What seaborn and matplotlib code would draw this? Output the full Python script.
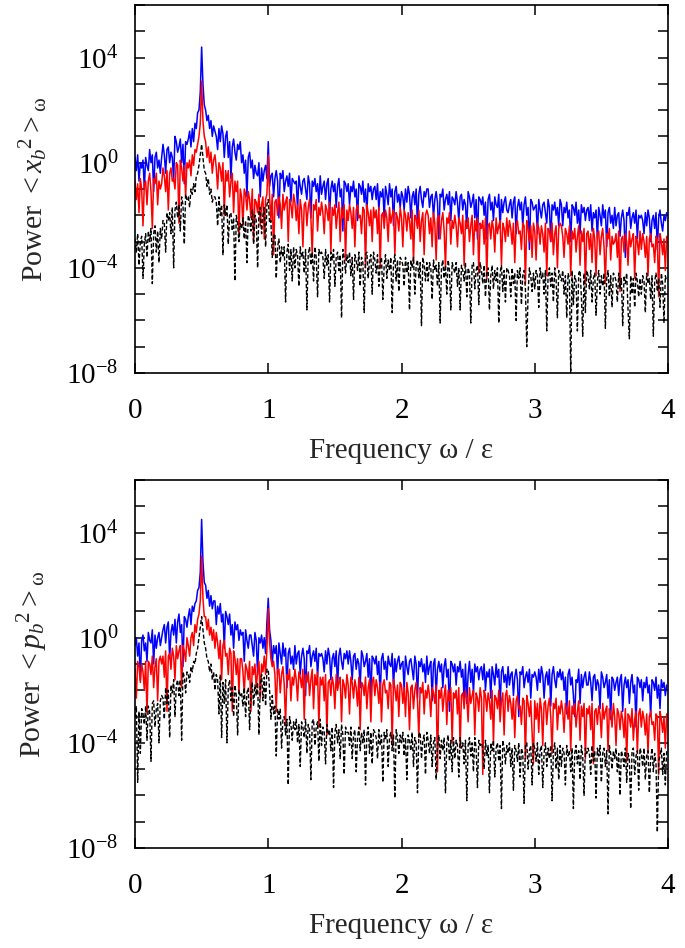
import numpy as np
import pandas as pd
import matplotlib
matplotlib.use("Agg")
import matplotlib.pyplot as plt
import seaborn as sns

# ---------------- data: log10(power) in tenths of a decade ----------------
# each row covers 0.2 in frequency with 20 samples (step 0.01)
STEP = 0.01
ROW_SPAN = 0.2

top_blue = [
    [2, -3, 3, -7, 0, -2, 1, -10, 2, -1, -3, 5, 0, 3, -11, 2, 4, -2, 1, -4],
    [2, 7, 3, -4, 5, 6, 0, 4, 2, -7, 10, 8, 4, 6, 9, 0, 7, -8, 8, 7],
    [9, 12, 6, 13, 8, 15, 13, 19, 20, 27, 44, 30, 22, 20, 16, 18, 13, 16, 10, 14],
    [12, 10, 5, 13, 8, 14, 11, 2, 10, 12, 2, 8, -6, 6, 9, 4, 1, 7, 5, 8],
    [0, 3, -4, 1, -13, 2, 4, -2, 1, -6, -1, -4, -5, 0, -13, -2, -7, -3, -1, -6],
    [8, -9, -5, -4, -13, -6, -3, -7, -21, -4, -6, -3, -11, -7, -5, -9, -4, -15, -6, -7],
    [-8, -7, -18, -5, -9, -12, -7, -6, -10, -14, -5, -8, -21, -7, -9, -6, -11, -8, -15, -5],
    [-12, -9, -7, -14, -8, -6, -20, -10, -7, -11, -8, -17, -9, -6, -13, -10, -26, -7, -8, -11],
    [-8, -16, -9, -11, -7, -13, -10, -22, -8, -9, -12, -7, -15, -10, -19, -8, -11, -9, -14, -10],
    [-9, -14, -8, -18, -11, -13, -10, -21, -9, -12, -16, -8, -13, -10, -24, -11, -9, -15, -12, -17],
    [-11, -13, -18, -10, -15, -9, -12, -21, -13, -11, -16, -10, -24, -12, -9, -14, -17, -11, -13, -10],
    [-10, -17, -13, -12, -21, -14, -11, -15, -29, -12, -13, -10, -18, -14, -12, -16, -11, -22, -13, -14],
    [-16, -11, -15, -22, -13, -12, -18, -14, -16, -25, -11, -13, -17, -15, -12, -21, -14, -29, -13, -14],
    [-16, -13, -20, -15, -29, -14, -12, -18, -15, -22, -13, -16, -17, -12, -25, -14, -19, -15, -13, -18],
    [-19, -16, -14, -21, -15, -13, -27, -17, -14, -18, -15, -24, -16, -13, -20, -17, -33, -14, -15, -18],
    [-17, -16, -27, -14, -18, -21, -16, -15, -19, -23, -14, -17, -30, -16, -18, -15, -20, -17, -24, -14],
    [-16, -24, -17, -19, -15, -21, -18, -30, -16, -17, -20, -15, -23, -18, -27, -16, -19, -17, -22, -18],
    [-17, -22, -16, -26, -19, -21, -18, -29, -17, -20, -24, -16, -21, -18, -32, -19, -17, -23, -20, -25],
    [-17, -24, -20, -19, -28, -21, -18, -22, -36, -19, -20, -17, -25, -21, -19, -23, -18, -29, -20, -21],
    [-20, -22, -27, -19, -24, -18, -21, -30, -22, -20, -25, -19, -33, -21, -18, -23, -26, -20, -22, -19],
]

top_red = [
    [-7, -14, -8, -19, -6, -10, -24, -8, -7, -16, -7, -4, -11, -25, -6, -8, -4, -16, -7, -10],
    [-8, -2, -5, -11, -3, -18, -4, -2, -7, -6, -10, 0, -1, -23, 1, -2, -7, -1, -13, 0],
    [-2, 1, -5, 3, -1, 5, 4, 7, 10, 15, 31, 16, 10, 8, 2, 6, 0, 4, -4, 1],
    [3, -2, -10, 0, -2, -7, 0, -20, -3, -7, -3, -13, -7, -4, -19, -7, -11, -7, -28, -10],
    [-13, -24, -10, -12, -18, -11, -14, -21, -10, -30, -14, -15, -19, -12, -24, -16, -13, -29, -14, -12],
    [3, -13, -22, -12, -35, -15, -14, -20, -13, -16, -25, -12, -18, -15, -13, -30, -14, -16, -21, -12],
    [-15, -22, -16, -27, -14, -18, -32, -16, -15, -24, -17, -14, -21, -35, -16, -18, -14, -26, -17, -20],
    [-15, -19, -27, -16, -18, -22, -15, -34, -17, -20, -16, -25, -19, -15, -30, -17, -21, -16, -37, -18],
    [-22, -16, -19, -25, -17, -32, -18, -16, -21, -20, -27, -17, -18, -40, -16, -19, -24, -18, -30, -17],
    [-21, -18, -27, -17, -40, -20, -19, -25, -18, -21, -30, -17, -23, -20, -18, -35, -19, -21, -26, -17],
    [-21, -32, -18, -20, -26, -19, -22, -29, -18, -38, -20, -21, -25, -18, -30, -22, -19, -35, -20, -18],
    [-20, -27, -21, -32, -19, -23, -37, -21, -20, -29, -22, -19, -26, -40, -21, -23, -19, -31, -22, -25],
    [-20, -24, -32, -21, -23, -27, -20, -39, -22, -25, -21, -30, -24, -20, -35, -22, -26, -21, -42, -23],
    [-25, -22, -31, -21, -44, -24, -23, -29, -22, -25, -34, -21, -27, -24, -22, -39, -23, -25, -30, -21],
    [-28, -22, -25, -31, -23, -38, -24, -22, -27, -26, -33, -23, -24, -46, -22, -25, -30, -24, -36, -23],
    [-26, -37, -23, -25, -31, -24, -27, -34, -23, -43, -25, -26, -30, -23, -35, -27, -24, -40, -25, -23],
    [-24, -28, -36, -25, -27, -31, -24, -43, -26, -29, -25, -34, -28, -24, -39, -26, -30, -25, -46, -27],
    [-26, -33, -27, -38, -25, -29, -43, -27, -26, -35, -28, -25, -32, -46, -27, -29, -25, -37, -28, -31],
    [-30, -27, -36, -26, -49, -29, -28, -34, -27, -30, -39, -26, -32, -29, -27, -44, -28, -30, -35, -26],
    [-33, -27, -30, -36, -28, -43, -29, -27, -32, -31, -38, -28, -29, -51, -27, -30, -35, -29, -41, -28],
]

top_black = [
    [-29, -34, -27, -39, -30, -28, -44, -31, -27, -36, -26, -30, -25, -46, -27, -24, -34, -26, -38, -25],
    [-29, -22, -23, -34, -19, -22, -19, -27, -17, -40, -18, -15, -21, -16, -26, -13, -16, -31, -12, -14],
    [-13, -17, -10, -12, -8, -11, -5, -4, -1, 3, 7, 2, -3, -4, -9, -6, -12, -10, -15, -13],
    [-13, -15, -24, -13, -20, -16, -35, -16, -20, -16, -31, -20, -19, -26, -21, -45, -20, -23, -30, -23],
    [-25, -21, -29, -22, -38, -20, -22, -26, -18, -31, -20, -22, -40, -18, -17, -27, -20, -17, -32, -16],
    [-14, -23, -22, -36, -28, -27, -44, -32, -29, -38, -32, -36, -32, -53, -34, -31, -41, -33, -45, -32],
    [-40, -33, -35, -47, -32, -36, -34, -42, -33, -56, -35, -32, -39, -34, -45, -32, -36, -51, -33, -35],
    [-34, -36, -44, -33, -39, -35, -53, -34, -37, -33, -47, -36, -34, -41, -35, -59, -33, -36, -42, -35],
    [-38, -34, -43, -36, -52, -35, -37, -41, -34, -47, -36, -38, -57, -35, -34, -44, -37, -35, -50, -34],
    [-37, -42, -35, -47, -38, -36, -52, -39, -35, -44, -37, -41, -36, -57, -38, -35, -45, -37, -49, -36],
    [-37, -39, -47, -36, -42, -38, -56, -37, -40, -36, -50, -39, -37, -44, -38, -62, -36, -39, -45, -38],
    [-45, -38, -40, -52, -37, -41, -39, -47, -38, -61, -40, -37, -44, -39, -50, -37, -41, -56, -38, -40],
    [-42, -38, -47, -40, -56, -39, -41, -45, -38, -51, -40, -42, -61, -39, -38, -48, -41, -39, -54, -38],
    [-41, -46, -39, -51, -42, -40, -56, -43, -39, -48, -41, -45, -40, -61, -42, -39, -49, -41, -53, -40],
    [-41, -43, -51, -40, -46, -42, -60, -41, -44, -40, -54, -43, -41, -48, -70, -50, -40, -43, -49, -42],
    [-48, -41, -43, -55, -40, -44, -42, -50, -41, -64, -43, -40, -47, -42, -53, -40, -44, -59, -41, -43],
    [-45, -41, -50, -43, -59, -42, -44, -80, -41, -54, -43, -45, -64, -42, -41, -51, -66, -42, -57, -41],
    [-43, -48, -41, -53, -44, -42, -58, -45, -41, -50, -43, -47, -42, -63, -44, -41, -51, -43, -55, -42],
    [-43, -45, -53, -42, -48, -44, -62, -43, -46, -42, -56, -67, -43, -50, -44, -55, -42, -45, -51, -44],
    [-50, -43, -45, -57, -42, -46, -44, -52, -43, -66, -45, -42, -49, -44, -55, -42, -46, -61, -43, -45],
]

bot_blue = [
    [-3, 0, -7, -2, -16, -1, 1, -5, -2, -9, 2, -1, -2, 3, -10, 1, -4, 0, 2, -3],
    [0, 3, 5, -2, 4, 6, -8, 2, 5, 1, 7, -2, 6, 9, 2, 5, -11, 8, 7, 4],
    [8, 11, 5, 12, 10, 13, 14, 18, 19, 25, 45, 29, 21, 20, 15, 18, 12, 16, 11, 14],
    [14, 5, 12, 9, 13, 6, 9, -4, 10, 8, 5, 9, 1, 5, -4, 6, 3, 5, -1, 3],
    [1, 2, -9, 3, -1, -4, 1, 1, -3, -7, 2, -1, -14, 0, -2, 1, -4, 0, -6, 6],
    [15, 3, -1, -10, -3, -6, -3, -14, -2, -6, -10, -2, -7, -4, -19, -6, -4, -10, -7, -12],
    [-3, -10, -6, -5, -14, -7, -4, -8, -22, -5, -6, -3, -11, -7, -5, -9, -4, -15, -6, -7],
    [-6, -8, -13, -5, -10, -4, -7, -16, -8, -6, -11, -5, -19, -7, -4, -9, -12, -6, -8, -5],
    [-10, -5, -9, -16, -7, -6, -12, -8, -10, -19, -5, -7, -11, -9, -6, -15, -8, -23, -7, -8],
    [-10, -7, -14, -9, -23, -8, -6, -12, -9, -16, -7, -10, -11, -6, -19, -8, -13, -9, -7, -12],
    [-10, -9, -20, -7, -11, -14, -9, -8, -12, -16, -7, -10, -23, -9, -11, -8, -13, -10, -17, -7],
    [-14, -11, -9, -24, -10, -8, -22, -12, -9, -13, -10, -19, -11, -8, -15, -12, -28, -9, -10, -13],
    [-10, -18, -11, -13, -9, -15, -12, -24, -10, -25, -14, -9, -17, -12, -21, -10, -13, -11, -16, -12],
    [-11, -16, -10, -20, -13, -15, -12, -23, -11, -14, -18, -10, -15, -12, -26, -13, -11, -17, -14, -19],
    [-11, -18, -14, -13, -22, -15, -12, -16, -30, -13, -14, -11, -19, -15, -13, -17, -12, -23, -14, -15],
    [-13, -15, -20, -12, -17, -11, -14, -23, -15, -13, -18, -12, -26, -14, -11, -16, -19, -13, -15, -12],
    [-16, -13, -20, -15, -29, -14, -12, -18, -15, -22, -30, -16, -17, -12, -25, -14, -19, -15, -13, -18],
    [-18, -13, -17, -24, -15, -14, -20, -16, -18, -27, -13, -15, -19, -17, -14, -23, -16, -31, -15, -16],
    [-20, -17, -15, -22, -16, -14, -28, -18, -15, -19, -16, -25, -17, -14, -21, -18, -34, -15, -16, -19],
    [-16, -24, -17, -19, -15, -21, -18, -30, -16, -17, -20, -15, -23, -18, -27, -16, -19, -17, -22, -18],
]

bot_red = [
    [-12, -23, -9, -11, -17, -10, -13, -20, -9, -29, -9, -10, -14, -7, -19, -11, -8, -24, -9, -7],
    [-10, -7, -15, -5, -28, -7, -6, -12, -4, -7, -16, -3, -8, -5, -3, -19, -3, -5, -9, 0],
    [-3, -7, 0, 2, -3, 5, 2, 7, 9, 14, 31, 15, 8, 8, 3, 7, 1, 4, -1, 3],
    [-4, 2, -2, -8, -1, -16, -3, -1, -7, -6, -14, -4, -6, -28, -5, -8, -14, -8, -21, -8],
    [-8, -13, -21, -10, -12, -16, -9, -28, -11, -14, -10, -19, -13, -9, -23, -10, -13, -7, -14, -4],
    [11, -2, -8, -11, -9, -14, -28, -12, -12, -21, -14, -11, -18, -33, -14, -16, -12, -24, -15, -18],
    [-12, -16, -24, -13, -15, -19, -12, -31, -14, -17, -13, -22, -16, -12, -27, -14, -18, -13, -34, -15],
    [-18, -15, -24, -14, -37, -17, -16, -22, -15, -18, -27, -14, -20, -17, -15, -32, -16, -18, -23, -14],
    [-18, -29, -15, -17, -23, -16, -19, -26, -15, -35, -17, -18, -22, -15, -27, -19, -16, -32, -17, -15],
    [-22, -16, -19, -25, -17, -32, -18, -16, -21, -20, -27, -17, -18, -40, -16, -19, -24, -18, -30, -17],
    [-18, -25, -19, -30, -17, -21, -35, -19, -18, -27, -20, -17, -24, -38, -19, -21, -17, -29, -20, -23],
    [-18, -22, -30, -19, -21, -25, -18, -51, -20, -23, -19, -28, -22, -18, -33, -20, -24, -19, -40, -21],
    [-23, -20, -29, -19, -42, -22, -21, -27, -20, -23, -32, -19, -25, -22, -20, -37, -21, -23, -28, -19],
    [-23, -52, -20, -22, -28, -21, -24, -31, -20, -40, -22, -23, -27, -20, -32, -24, -21, -37, -22, -20],
    [-28, -22, -25, -31, -23, -38, -24, -22, -27, -26, -33, -23, -24, -46, -22, -25, -30, -24, -36, -48],
    [-24, -31, -25, -36, -23, -27, -41, -25, -24, -33, -26, -23, -30, -44, -25, -27, -23, -35, -26, -29],
    [-24, -28, -36, -25, -27, -31, -24, -43, -26, -29, -25, -34, -28, -24, -39, -26, -30, -25, -46, -27],
    [-29, -26, -35, -25, -48, -28, -27, -33, -26, -29, -38, -25, -31, -28, -26, -43, -27, -29, -34, -25],
    [-30, -41, -27, -29, -35, -28, -31, -38, -27, -47, -29, -30, -34, -27, -39, -31, -28, -44, -29, -27],
    [-34, -28, -31, -37, -29, -44, -30, -28, -33, -32, -39, -29, -30, -52, -28, -31, -36, -30, -42, -29],
]

bot_black = [
    [-30, -26, -55, -28, -44, -27, -29, -33, -26, -39, -26, -28, -47, -25, -24, -34, -27, -25, -40, -24],
    [-22, -23, -31, -19, -25, -20, -38, -18, -21, -16, -30, -18, -16, -22, -16, -39, -13, -15, -21, -13],
    [-14, -17, -11, -13, -9, -10, -6, -4, 0, 4, 8, 3, -2, -4, -8, -9, -13, -10, -16, -13],
    [-20, -14, -16, -29, -14, -38, -17, -25, -16, -40, -19, -16, -24, -19, -30, -18, -22, -37, -20, -22],
    [-21, -26, -19, -30, -21, -19, -35, -21, -17, -26, -18, -22, -17, -37, -18, -14, -24, -15, -26, -12],
    [-12, -20, -31, -22, -29, -26, -45, -27, -31, -27, -42, -31, -30, -37, -31, -56, -30, -33, -39, -32],
    [-35, -31, -40, -33, -49, -32, -34, -38, -31, -44, -33, -35, -54, -32, -31, -41, -34, -32, -47, -31],
    [-41, -34, -36, -48, -33, -37, -35, -43, -34, -57, -36, -33, -40, -35, -46, -33, -37, -52, -34, -36],
    [-36, -41, -34, -46, -37, -35, -51, -38, -34, -43, -36, -40, -35, -56, -37, -34, -44, -36, -48, -35],
    [-36, -38, -46, -35, -41, -37, -55, -36, -39, -35, -49, -38, -36, -43, -37, -61, -35, -38, -44, -37],
    [-40, -36, -45, -38, -54, -37, -39, -43, -36, -49, -38, -40, -59, -37, -36, -46, -39, -37, -52, -36],
    [-39, -44, -37, -49, -40, -38, -54, -41, -37, -46, -39, -43, -38, -59, -40, -37, -47, -39, -51, -38],
    [-46, -39, -41, -53, -38, -42, -40, -48, -39, -62, -41, -38, -45, -40, -51, -38, -42, -57, -39, -41],
    [-40, -42, -50, -39, -45, -41, -59, -40, -43, -39, -53, -42, -40, -47, -41, -65, -39, -42, -48, -41],
    [-44, -40, -49, -42, -58, -41, -43, -47, -40, -53, -42, -44, -63, -41, -40, -50, -43, -41, -56, -40],
    [-42, -47, -40, -52, -43, -41, -57, -44, -40, -49, -42, -46, -41, -62, -43, -40, -50, -42, -54, -41],
    [-49, -42, -44, -56, -41, -45, -43, -51, -42, -65, -44, -41, -48, -43, -54, -41, -45, -60, -42, -44],
    [-42, -44, -52, -41, -47, -43, -61, -42, -45, -41, -55, -44, -42, -49, -43, -67, -41, -44, -50, -43],
    [-46, -42, -51, -44, -60, -43, -45, -49, -42, -55, -44, -46, -65, -43, -42, -52, -45, -43, -58, -42],
    [-44, -49, -42, -54, -45, -43, -59, -46, -42, -51, -44, -48, -74, -47, -45, -42, -52, -44, -56, -43],
]

Y_TICK_EXP = list(range(-8, 7))
Y_LABELED = [-8, -4, 0, 4]
X_TICKS = [0, 1, 2, 3, 4]
XLABEL = "Frequency ω / ε"
YLABELS = [r"Power $<x_b{}^{2}>_{\mathrm{\omega}}$", r"Power $<p_b{}^{2}>_{\mathrm{\omega}}$"]


def to_frame(rows, name):
    recs = []
    for i, row in enumerate(rows):
        for j, v in enumerate(row):
            recs.append((round(i * ROW_SPAN + j * STEP, 4), 10.0 ** (v / 10.0), name))
    return pd.DataFrame(recs, columns=["freq", "power", "series"])


panels = [
    [to_frame(top_blue, "blue"), to_frame(top_red, "red"), to_frame(top_black, "black")],
    [to_frame(bot_blue, "blue"), to_frame(bot_red, "red"), to_frame(bot_black, "black")],
]

# ---------------- styling ----------------
sns.set_theme(style="ticks")
plt.rcParams["font.family"] = ["Liberation Serif", "DejaVu Serif"]
plt.rcParams["mathtext.fontset"] = "custom"
plt.rcParams["mathtext.rm"] = "Liberation Serif"
plt.rcParams["mathtext.it"] = "Liberation Serif:italic"
plt.rcParams["mathtext.bf"] = "Liberation Serif:bold"
plt.rcParams["axes.unicode_minus"] = False

fig = plt.figure(figsize=(6.85, 9.48), dpi=100)
ax_pos = [
    [135 / 685, 1 - 373 / 948, 533 / 685, 368 / 948],
    [135 / 685, 1 - 848 / 948, 533 / 685, 368 / 948],
]
colors = {"blue": "#0000ff", "red": "#ff0000", "black": "#000000"}
widths = {"blue": 1.1, "red": 1.1, "black": 1.0}

for p, (pos, frames) in enumerate(zip(ax_pos, panels)):
    ax = fig.add_axes(pos)
    for df in frames:
        name = df["series"].iloc[0]
        sns.lineplot(data=df, x="freq", y="power", color=colors[name],
                     lw=widths[name], estimator=None, sort=False, ax=ax, legend=False)
        if name == "black":
            ax.lines[-1].set_dashes([3, 1.6])
    ax.set_yscale("log")
    ax.set_xlim(0, 4)
    ax.set_ylim(1e-8, 1e6)
    ax.set_yticks([10.0 ** k for k in Y_TICK_EXP])
    ax.set_yticklabels([(r"$10^{%d}$" % k) if k in Y_LABELED else "" for k in Y_TICK_EXP])
    ax.yaxis.set_minor_locator(matplotlib.ticker.NullLocator())
    ax.set_xticks(X_TICKS)
    ax.set_xticklabels([str(t) for t in X_TICKS])
    ax.tick_params(which="both", direction="in", top=True, right=True,
                   length=7, width=1.1, labelsize=21, colors="black")
    ax.tick_params(axis="x", pad=18)
    ax.tick_params(axis="y", pad=12)
    for s in ax.spines.values():
        s.set_linewidth(1.2)
        s.set_color("black")
    ax.set_xlabel(XLABEL, fontsize=21, labelpad=10)
    ax.set_ylabel(YLABELS[p], fontsize=21.5)
    ax.yaxis.set_label_coords(-0.16, 0.5)

fig.savefig("out.png", dpi=100)
